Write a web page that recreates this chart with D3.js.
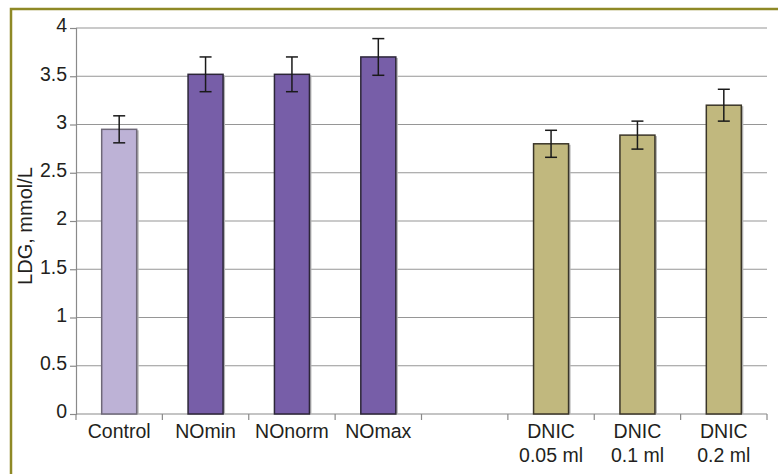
<!DOCTYPE html>
<html>
<head>
<meta charset="utf-8">
<script src="https://cdn.jsdelivr.net/npm/d3@7"></script>
<style>
  html, body { margin: 0; padding: 0; background: #ffffff; }
  svg { display: block; font-family: "Liberation Sans", Arial, sans-serif; }
</style>
</head>
<body>
<svg id="chart" width="778" height="474"></svg>
<script>
// Groups along the x axis (one slot left empty between the NO and DNIC groups)
const categories = ["Control", "NOmin", "NOnorm", "NOmax", "", "DNIC\n0.05 ml", "DNIC\n0.1 ml", "DNIC\n0.2 ml"];
const values     = [2.95, 3.52, 3.52, 3.70, null, 2.80, 2.89, 3.20];
const errors     = [0.14, 0.18, 0.18, 0.19, null, 0.14, 0.145, 0.165];
const groups     = ["control", "no", "no", "no", null, "dnic", "dnic", "dnic"];
const yTicks     = [0, 0.5, 1, 1.5, 2, 2.5, 3, 3.5, 4];
const yTitle     = "LDG, mmol/L";

const fills = { control: "#bdb2d6", no: "#775ea8", dnic: "#c1b87e" };
const strokes = { control: "#6e6878", no: "#2c2638", dnic: "#3a3528" };

const svg = d3.select("#chart");
const margin = { left: 76, right: 11, top: 28, bottom: 60 };
const W = 778, H = 474;
const plotR = W - margin.right, plotB = H - margin.bottom;

// Frame
svg.append("path")
  .attr("d", `M11,${H + 5} L11,9 L${W + 5},9`)
  .attr("fill", "none").attr("stroke", "#8e8926").attr("stroke-width", 2.5);

const x = d3.scaleBand().domain(d3.range(categories.length))
  .range([margin.left, plotR]).paddingInner(0).paddingOuter(0);
const y = d3.scaleLinear().domain([0, 4]).range([plotB, margin.top]);

// Horizontal grid
svg.append("g").selectAll("line").data(yTicks.filter(d => d > 0)).join("line")
  .attr("x1", margin.left).attr("x2", plotR)
  .attr("y1", d => y(d)).attr("y2", d => y(d))
  .attr("stroke", "#969696").attr("stroke-width", 1.2);

// Y axis
const yAxis = svg.append("g").attr("transform", `translate(${margin.left},0)`)
  .call(d3.axisLeft(y).tickValues(yTicks).tickSize(6).tickPadding(3).tickFormat(d3.format("")));
yAxis.select(".domain").attr("stroke", "#8a8a8a").attr("stroke-width", 1.2);
yAxis.selectAll(".tick line").attr("stroke", "#8a8a8a").attr("stroke-width", 1.2);
yAxis.selectAll(".tick text").attr("fill", "#231f20").attr("font-size", "19.5px")
  .attr("font-family", "Liberation Sans, Arial, sans-serif").attr("dy", "0.2em");

// X axis baseline and slot ticks
const xg = svg.append("g");
xg.append("line").attr("x1", margin.left).attr("x2", plotR)
  .attr("y1", plotB).attr("y2", plotB).attr("stroke", "#8a8a8a").attr("stroke-width", 1.2);
const edges = d3.range(categories.length + 1).map(i => i < categories.length ? x(i) : plotR);
xg.selectAll("line.tk").data(edges).join("line").attr("class", "tk")
  .attr("x1", d => d).attr("x2", d => d).attr("y1", plotB).attr("y2", plotB + 6)
  .attr("stroke", "#8a8a8a").attr("stroke-width", 1.2);

// Category labels
categories.forEach((c, i) => {
  if (!c) return;
  const lines = c.split("\n");
  const t = svg.append("text").attr("text-anchor", "middle")
    .attr("font-size", "19.5px").attr("fill", "#231f20");
  lines.forEach((ln, k) => {
    t.append("tspan").attr("x", x(i) + x.bandwidth() / 2)
      .attr("y", plotB + 24 + k * 24).text(ln);
  });
});

// Bars
const bw = 35;
const data = values.map((v, i) => ({ v, e: errors[i], g: groups[i], i })).filter(d => d.v != null);
const bars = svg.append("g");
// soft shadow
bars.selectAll("rect.sh").data(data).join("rect").attr("class", "sh")
  .attr("x", d => x(d.i) + x.bandwidth() / 2 - bw / 2 + 2)
  .attr("y", d => y(d.v) + 1)
  .attr("width", bw).attr("height", d => plotB - y(d.v) - 1)
  .attr("fill", "#b4b4b4");
bars.selectAll("rect.bar").data(data).join("rect").attr("class", "bar")
  .attr("x", d => x(d.i) + x.bandwidth() / 2 - bw / 2)
  .attr("y", d => y(d.v))
  .attr("width", bw).attr("height", d => plotB - y(d.v))
  .attr("fill", d => fills[d.g]).attr("stroke", d => strokes[d.g]).attr("stroke-width", 1.5);

// Error bars
const eb = svg.append("g").attr("stroke", "#1a1a1a").attr("stroke-width", 1.5);
data.forEach(d => {
  const cx = x(d.i) + x.bandwidth() / 2;
  eb.append("line").attr("x1", cx).attr("x2", cx).attr("y1", y(d.v + d.e)).attr("y2", y(d.v - d.e));
  [d.v + d.e, d.v - d.e].forEach(v => {
    eb.append("line").attr("x1", cx - 6).attr("x2", cx + 6).attr("y1", y(v)).attr("y2", y(v));
  });
});

// Y axis title
svg.append("text").attr("transform", `translate(32,${(margin.top + plotB) / 2 + 5}) rotate(-90)`)
  .attr("text-anchor", "middle").attr("font-size", "20px").attr("fill", "#231f20").text(yTitle);
</script>
</body>
</html>
